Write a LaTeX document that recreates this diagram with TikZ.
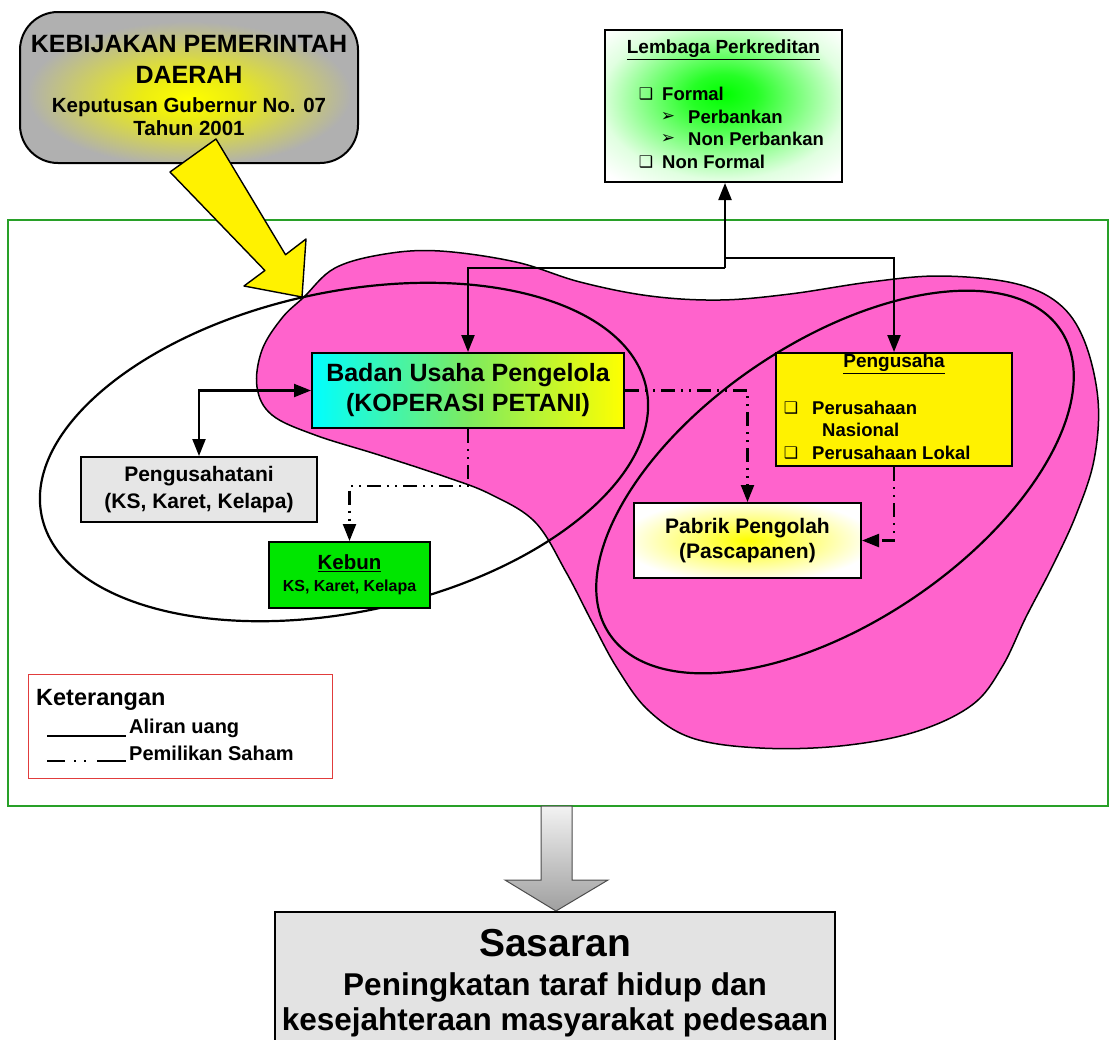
\documentclass[tikz,border=0pt]{standalone}
\usepackage{fontspec}
\setmainfont{Liberation Sans}
\newfontfamily\dingfont{DejaVu Sans}
\usepackage{tikz}
\usetikzlibrary{arrows.meta, calc, positioning}
\definecolor{hotpink}{RGB}{255,99,204}
\definecolor{framegreen}{RGB}{40,160,40}
\definecolor{kebungreen}{RGB}{0,230,0}
\definecolor{midgreen}{RGB}{125,235,95}
\definecolor{lightgrey}{RGB}{230,230,230}
\pgfdeclareradialshading{greenglow}{\pgfpoint{0bp}{4bp}}{color(0bp)=(green); color(7bp)=(green!85); color(26bp)=(green!12); color(34bp)=(white); color(50bp)=(white)}
\pgfdeclareradialshading{greyglow}{\pgfpoint{0bp}{-4bp}}{color(0bp)=(yellow); color(7bp)=(yellow!85!gray); color(24bp)=(gray!62); color(50bp)=(gray!62)}
\pgfdeclareradialshading{paleglow}{\pgfpoint{0bp}{0bp}}{color(0bp)=(yellow); color(8bp)=(yellow!70); color(28bp)=(white); color(50bp)=(white)}
\newcommand{\cbx}{{\dingfont\fontsize{16}{16}\selectfont ❑}}
\newcommand{\arw}{{\dingfont\fontsize{17}{17}\selectfont ➢}}

\begin{document}
\begin{tikzpicture}[x=1pt, y=-1pt,
	box/.style={draw=black, line width=2pt, inner sep=0pt, align=center},
	txt/.style={inner sep=0pt},
	money/.style={line width=2.2pt, -{Triangle[length=17pt,width=13pt]}},
	share/.style={line width=2.2pt, dash pattern=on 14pt off 6pt on 2pt off 6pt on 2pt off 6pt, -{Triangle[length=17pt,width=13pt]}},
	fbig/.style={font=\fontsize{25}{30}\selectfont\bfseries},
	fmid/.style={font=\fontsize{20.5}{25}\selectfont\bfseries},
	flist/.style={font=\fontsize{18.5}{22}\selectfont\bfseries}]
			\useasboundingbox (0,0) rectangle (1110,1039);
			
			%% frame of the area
			\draw[framegreen, line width=2pt] (8,220) rectangle (1108,806);
			
			%% the pink area
			\draw[fill=hotpink, line width=1.5pt] plot[smooth cycle, tension=0.6] coordinates {
				(304,297) (335,268) (385,254) (440,251) (516,262) (580,282) (650,296) (720,300)
				(790,294) (870,282) (940,276) (1013,283) (1058,303) (1084,340) (1098,400) (1094,460)
				(1076,515) (1052,567) (1026,617) (1002,667) (972,705) (915,732) (840,746) (760,748)
				(692,738) (648,710) (617,668) (592,622) (566,572) (535,522) (490,494) (446,477)
				(379,455) (315,435) (272,415) (257,387) (262,350) (282,318)};
			
			\draw[line width=2.2pt, rotate around={12:(344,452)}] (344,452) ellipse [x radius=309, y radius=160];
			\draw[line width=2.2pt, rotate around={34:(835,482)}] (835,482) ellipse [x radius=272, y radius=140];
			
			%% boxes
			\node[box, left color=cyan, right color=yellow, middle color=midgreen, minimum width=312pt, minimum height=75pt, fbig] (badan) at (468,390.5) {Badan Usaha Pengelola\\(KOPERASI PETANI)};
			\node[box, fill=lightgrey, minimum width=236pt, minimum height=65pt, font=\fontsize{21}{27}\selectfont\bfseries] (tani) at (199,489.5) {Pengusahatani\\(KS, Karet, Kelapa)};
			\node[box, fill=kebungreen, minimum width=161pt, minimum height=66pt, fmid] (kebun) at (349.5,575) {\underline{Kebun}\\[-3pt]{\fontsize{16}{20}\selectfont KS, Karet, Kelapa}};
			\node[box, shading=paleglow, minimum width=227pt, minimum height=75pt, font=\fontsize{21}{25}\selectfont\bfseries] (pabrik) at (747.5,540.5) {Pabrik Pengolah\\(Pascapanen)};
			
			\node[box, fill=yellow, minimum width=236pt, minimum height=113pt] (pengusaha) at (894,409.5) {};
			\node[txt, font=\fontsize{19}{22}\selectfont\bfseries] (pengt) at (894,364) {\underline{Pengusaha}};
			\node[txt] (pc1) at (791,408) {\cbx};
			\node[txt, flist, anchor=west] (pi1) at (812,408) {Perusahaan};
			\node[txt, flist, anchor=west] (pi2) at (822,430) {Nasional};
			\node[txt] (pc2) at (791,453) {\cbx};
			\node[txt, flist, anchor=west] (pi3) at (812,453) {Perusahaan Lokal};
			
			\node[box, shading=greenglow, minimum width=237pt, minimum height=152pt] (lembaga) at (723.5,106) {};
			\node[txt, font=\fontsize{19}{22}\selectfont\bfseries] (lembt) at (723.5,50) {\underline{Lembaga Perkreditan}};
			\foreach \y/\t in {94/Formal, 162/Non Formal}{
				\node[txt] (lc\y) at (646,\y) {\cbx};
				\node[txt, flist, anchor=west] (li\y) at (662,\y) {\t};
			}
			\foreach \y/\t in {117/Perbankan, 139/Non Perbankan}{
				\node[txt] (la\y) at (668,\y) {\arw};
				\node[txt, flist, anchor=west] (li\y) at (688,\y) {\t};
			}
			
			%% aliran uang
			\coordinate (split) at (725,268);
			\coordinate (splitr) at (725,258);
			\draw[money] (split) -- (split |- lembaga.south);
			\draw[money] (split) -| (badan.north);
			\draw[money] (splitr) -| (pengusaha.north);
			\draw[money, {Triangle[length=17pt,width=13pt]}-{Triangle[length=17pt,width=13pt]}] (badan.west) -| (tani.north);
			
			%% pemilikan saham
			\draw[share] (badan.south) -- ++(0,57) -| (kebun.north);
			\draw[share] (badan.east) -| (pabrik.north);
			\draw[share] (pengusaha.south) |- (pabrik.east);
			
			%% kebijakan
			\node[box, rounded corners=38pt, shading=greyglow, minimum width=338pt, minimum height=151pt] (kebijakan) at (189,87.5) {};
			\node[txt, anchor=base, fbig] (kb1) at (189,52) {KEBIJAKAN PEMERINTAH};
			\node[txt, anchor=base, fbig] (kb2) at (189,83) {DAERAH};
			\node[txt, anchor=base, fmid] (kb3) at (189,112) {Keputusan Gubernur No. 07};
			\node[txt, anchor=base, fmid] (kb4) at (189,135) {Tahun 2001};
			\draw[fill=yellow, line width=1.4pt, line join=round] (170,172) -- (216,139) -- (285.5,254.7) -- (306,239) -- (302,297) -- (244,286) -- (264.9,270.5) -- cycle;
			
			%% keterangan
			\node[draw={rgb,255:red,225;green,60;blue,60}, line width=1pt, fill=white, minimum width=304pt, minimum height=104pt, inner sep=0pt] (ket) at (180,726) {};
			\node[txt, anchor=west, font=\fontsize{23.5}{27}\selectfont\bfseries] (kett) at (36,700) {Keterangan};
			\node[txt, anchor=west, font=\fontsize{20}{24}\selectfont\bfseries] (ket1) at (129,728) {Aliran uang};
			\node[txt, anchor=west, font=\fontsize{20}{24}\selectfont\bfseries] (ket2) at (129,753) {Pemilikan Saham};
			\draw[line width=1.8pt] (47,736) -- (126,736);
			\draw[line width=1.8pt, dash pattern=on 18pt off 9pt on 2pt off 8pt on 2pt off 11pt on 29pt off 1pt] (47,761) -- (126,761);
			
			%% sasaran
			\draw[draw=gray!60!black, top color=gray!10, bottom color=gray!75, line width=1pt] (541,806) -- (572,806) -- (572,880) -- (608,880) -- (556,911) -- (505,880) -- (541,880) -- cycle;
			\node[box, fill=gray!22, line width=1.5pt, minimum width=560pt, minimum height=134pt, anchor=north] (sasaran) at (555,911) {};
			\node[txt, anchor=base, font=\fontsize{39}{42}\selectfont\bfseries] (sas1) at (555,956) {Sasaran};
			\node[txt, anchor=base, font=\fontsize{31.5}{35}\selectfont\bfseries] (sas2) at (555,995) {Peningkatan taraf hidup dan};
			\node[txt, anchor=base, font=\fontsize{31.5}{35}\selectfont\bfseries] (sas3) at (555,1030) {kesejahteraan masyarakat pedesaan};
\end{tikzpicture}
\end{document}
